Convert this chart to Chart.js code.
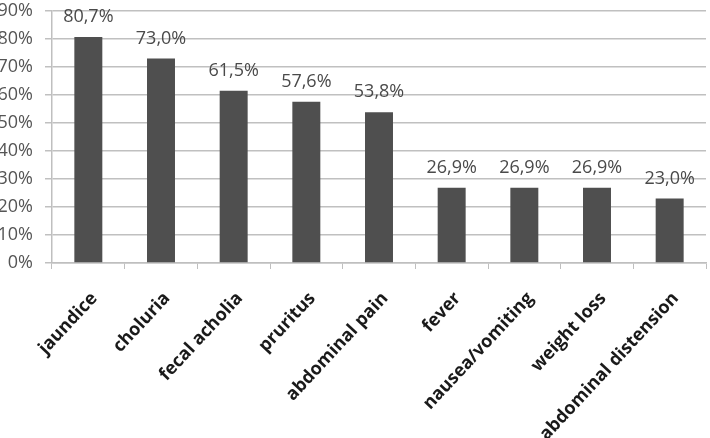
<!DOCTYPE html>
<html><head><meta charset="utf-8">
<script src="https://cdn.jsdelivr.net/npm/chart.js@4/dist/chart.umd.min.js"></script>
<style>html,body{margin:0;padding:0;background:#fff;}#wrap{position:relative;width:710px;height:438px;}</style>
</head><body><div id="wrap"><canvas id="c" width="710" height="438"></canvas></div>
<script>
const categories = ["jaundice","choluria","fecal acholia","pruritus","abdominal pain","fever","nausea/vomiting","weight loss","abdominal distension"];
const values = [80.7, 73.0, 61.5, 57.6, 53.8, 26.9, 26.9, 26.9, 23.0];
const yTicks = [0,10,20,30,40,50,60,70,80,90];

const valueLabels = {
  id: 'valueLabels',
  afterDatasetsDraw(chart) {
    const ctx = chart.ctx;
    const meta = chart.getDatasetMeta(0);
    ctx.save();
    ctx.font = '18px "Open Sans"';
    ctx.fillStyle = '#4a4a4a';
    ctx.textAlign = 'center';
    ctx.textBaseline = 'alphabetic';
    meta.data.forEach((bar, i) => {
      ctx.fillText(values[i].toFixed(1).replace('.', ',') + '%', bar.x, bar.y - 15);
    });
    ctx.restore();
  }
};

new Chart(document.getElementById('c'), {
  type: 'bar',
  data: { labels: categories, datasets: [{ data: values, backgroundColor: '#4f4f4f', barPercentage: 0.77, categoryPercentage: 0.5 }] },
  options: {
    responsive: false, animation: false,
    layout: { padding: { top: 11, right: 4, left: 0, bottom: 0 } },
    plugins: { legend: { display: false }, tooltip: { enabled: false } },
    scales: {
      x: {
        grid: { drawOnChartArea: false, drawTicks: true, tickLength: 6, color: '#bfbfbf', offset: true },
        border: { display: true, color: '#bfbfbf', width: 1.5 },
        ticks: { maxRotation: 47, minRotation: 47, autoSkip: false, color: '#1a1a1a', font: { family: '"Open Sans"', size: 18, weight: 'bold' }, padding: 19, labelOffset: 6 },
        afterFit(s) { s.height = 175; s.paddingLeft = 0; s.paddingRight = 0; }
      },
      y: {
        min: 0, max: 90,
        afterBuildTicks(s) { s.ticks = yTicks.map(v => ({ value: v })); },
        grid: { color: '#c0c0c0', lineWidth: 1.5, tickLength: 7 },
        border: { display: true, color: '#bfbfbf', width: 1.5 },
        ticks: { color: '#555555', font: { family: '"Open Sans"', size: 18 }, padding: 12, callback: v => v + '%' },
        afterFit(s) { s.width = 52; s.paddingTop = 0; s.paddingBottom = 0; }
      }
    }
  },
  plugins: [valueLabels]
});
</script></body></html>
